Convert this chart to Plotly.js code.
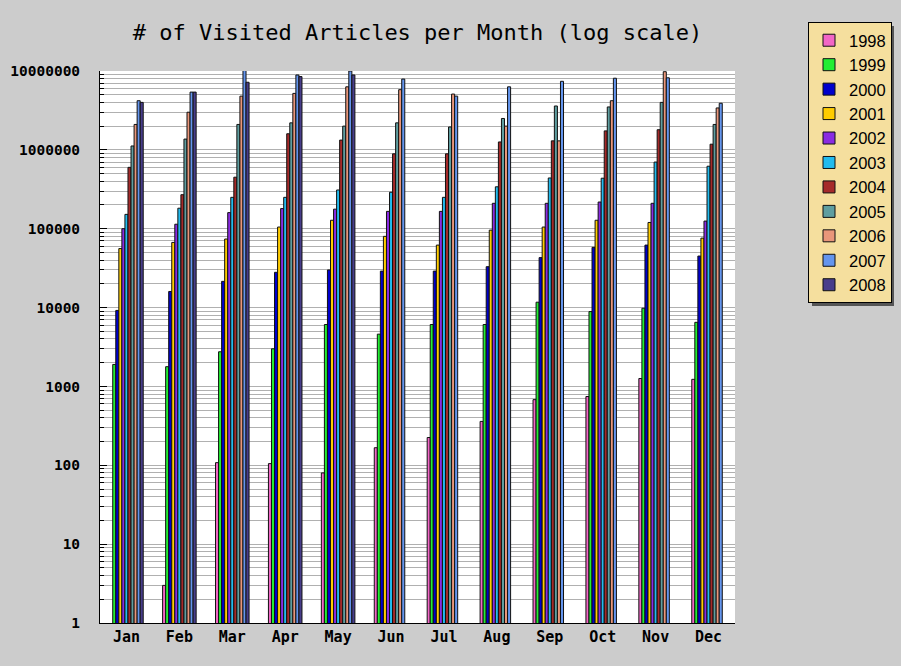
<!DOCTYPE html>
<html>
<head>
<meta charset="utf-8">
<script src="https://cdn.plot.ly/plotly-3.0.1.min.js"></script>
<style>html,body{margin:0;padding:0;background:#cccccc;}#chart{width:901px;height:666px;}</style>
</head>
<body>
<div id="chart"></div>
<script>
// Categories
const months = ["Jan","Feb","Mar","Apr","May","Jun","Jul","Aug","Sep","Oct","Nov","Dec"];
const years = ["1998","1999","2000","2001","2002","2003","2004","2005","2006","2007","2008"];

// Series values (visited articles per month)
const v1998 = [null, 3, 108, 105, 80, 167, 225, 360, 680, 745, 1260, 1230];
const v1999 = [1900, 1780, 2750, 3000, 6100, 4600, 6100, 6100, 11700, 8900, 9800, 6500];
const v2000 = [9200, 16000, 21500, 28000, 30000, 29000, 29000, 33000, 43000, 58000, 62000, 45000];
const v2001 = [56000, 67000, 74000, 105000, 128000, 80000, 62000, 96000, 105000, 128000, 120000, 76000];
const v2002 = [100000, 114000, 160000, 180000, 177000, 166000, 166000, 210000, 210000, 218000, 210000, 125000];
const v2003 = [152000, 182000, 250000, 250000, 310000, 290000, 250000, 340000, 440000, 437000, 700000, 620000];
const v2004 = [600000, 270000, 450000, 1600000, 1330000, 890000, 890000, 1260000, 1300000, 1740000, 1800000, 1180000];
const v2005 = [1120000, 1370000, 2100000, 2200000, 2000000, 2200000, 1950000, 2500000, 3600000, 3500000, 4000000, 2100000];
const v2006 = [2100000, 3000000, 4800000, 5200000, 6300000, 5800000, 5100000, 2000000, 1300000, 4200000, 9800000, 3400000];
const v2007 = [4200000, 5400000, 10200000, 8900000, 10000000, 7900000, 4800000, 6300000, 7400000, 8100000, 8200000, 3900000];
const v2008 = [4000000, 5400000, 7200000, 8500000, 8900000, null, null, null, null, null, null, null];

// Y tick labels
const yTickVals = [1, 10, 100, 1000, 10000, 100000, 1000000, 10000000];
const yTickText = ["1", "10", "100", "1000", "10000", "100000", "1000000", "10000000"];

const series = [v1998, v1999, v2000, v2001, v2002, v2003, v2004, v2005, v2006, v2007, v2008];
const colors = ["#f266c6", "#22ee33", "#0000cc", "#ffcc00", "#8a2be2", "#22bbee",
                "#a52a2a", "#5f9ea0", "#e9967a", "#6495ed", "#483d8b"];

const traces = series.map((vals, i) => ({
  type: "bar",
  name: years[i],
  x: months,
  y: vals,
  marker: { color: colors[i], line: { color: "#111111", width: 1 } }
}));

// minor tick positions 2..9 per decade
const minorVals = [];
for (let k = 0; k < 7; k++) {
  for (let d = 2; d <= 9; d++) minorVals.push(d * Math.pow(10, k));
}

// plot-area geometry (pixels) used to place the legend shadow
const PL = 100, PR = 735, PT = 71, PB = 623;
const px2x = p => (p - PL) / (PR - PL);
const px2y = p => (PB - p) / (PB - PT);

const layout = {
  width: 901,
  height: 666,
  paper_bgcolor: "#cccccc",
  plot_bgcolor: "#ffffff",
  margin: { l: 100, r: 166, t: 71, b: 43 },
  barmode: "group",
  bargap: 0.366,
  bargroupgap: 0,
  title: {
    text: "# of Visited Articles per Month (log scale)",
    font: { family: "DejaVu Sans Mono", size: 22, color: "#000000" },
    x: 0.5, xref: "paper", xanchor: "center",
    y: 1 - 32 / 666, yref: "container", yanchor: "middle"
  },
  xaxis: {
    type: "category",
    showline: true, linecolor: "#000000", linewidth: 1,
    ticks: "", showgrid: false, zeroline: false,
    tickfont: { family: "DejaVu Sans Mono", size: 15, weight: "bold", color: "#000000" }
  },
  yaxis: {
    type: "log",
    range: [0, 7],
    showline: true, linecolor: "#000000", linewidth: 1,
    ticks: "inside", ticklen: 7, tickcolor: "#000000",
    tickvals: yTickVals, ticktext: yTickText,
    tickfont: { family: "DejaVu Sans Mono", size: 14.5, weight: "bold", color: "#000000" },
    ticklabelstandoff: 16,
    showgrid: true, gridcolor: "#b0b0b0", gridwidth: 1,
    zeroline: false,
    minor: { tickvals: minorVals, ticks: "inside", ticklen: 4, tickcolor: "#000000",
             showgrid: true, gridcolor: "#b0b0b0", gridwidth: 1 }
  },
  legend: {
    xref: "container", yref: "container",
    x: 808 / 901, xanchor: "left",
    y: 1 - 22 / 666, yanchor: "top",
    bgcolor: "#f5df9e", bordercolor: "#000000", borderwidth: 1,
    font: { family: "Liberation Sans", size: 16.5, color: "#000000" },
    itemwidth: 30,
    traceorder: "normal"
  },
  shapes: [{
    type: "rect", xref: "paper", yref: "paper", layer: "below",
    x0: px2x(812), x1: px2x(894), y0: px2y(306), y1: px2y(26),
    fillcolor: "#555555", line: { width: 0 }
  }],
  showlegend: true
};

Plotly.newPlot("chart", traces, layout, { displayModeBar: false, staticPlot: true });
</script>
</body>
</html>
